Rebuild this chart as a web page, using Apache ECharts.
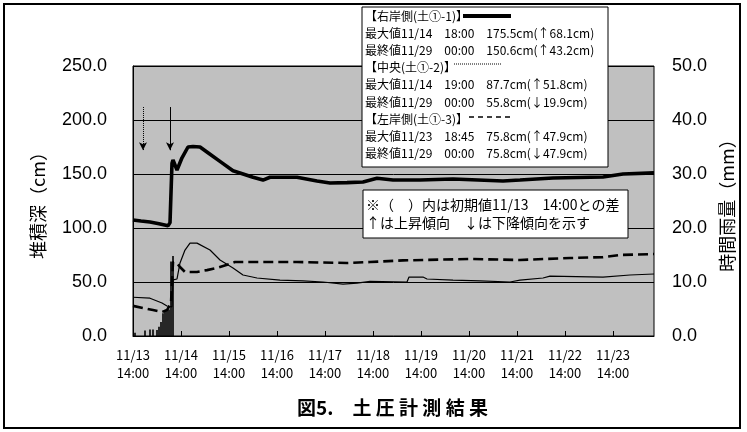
<!DOCTYPE html>
<html>
<head>
<meta charset="utf-8">
<script src="https://cdn.jsdelivr.net/npm/echarts@6/dist/echarts.min.js"></script>
<style>
html, body { margin: 0; padding: 0; background: #fff; }
#main { width: 747px; height: 432px; }
</style>
</head>
<body>
<div id="main"></div>
<script>
// hours counted from 11/13 14:00
var rightHours = [0, 4, 8.5, 13, 17.5, 18.5, 19.5, 20, 22, 24.5, 27.5, 30, 33.5, 38, 44, 50, 53.5, 60, 65, 68.5, 75, 82, 92, 98.5, 107, 115, 122, 130, 143.5, 160, 185, 193.5, 210, 235, 245, 260.5]
var rightVals = [107.4, 106.5, 105.5, 104, 102, 105, 160, 163, 153.7, 165, 175, 175.5, 175, 169, 161, 153, 151, 147, 144.4, 147, 147, 147, 143.5, 141.7, 142, 142.6, 146, 144.4, 144.4, 145.4, 143.5, 144.4, 146.3, 147.2, 150, 151]

var midHours = [0, 8.5, 14.5, 17, 19.5, 20, 22, 23.5, 26, 28.5, 29.5, 32, 38.5, 43.5, 50, 55, 62, 73.5, 85, 95, 105, 112, 118.5, 137, 138, 145, 147, 160, 173.5, 188.5, 193.5, 205, 208.5, 235, 248.5, 260.5]
var midVals = [35.9, 35, 30.5, 27.8, 27, 52, 52.8, 67.6, 79.6, 86, 87.7, 86, 79.6, 70.4, 63, 56.5, 53.7, 51.8, 51, 50, 48, 49, 50.5, 50, 54.6, 54.6, 52.8, 51.8, 51, 50, 51.8, 53.7, 55.5, 54.6, 56.5, 57.4]

var leftHours = [0, 5, 10, 14.5, 17, 19, 20, 22, 23.5, 26, 32, 37, 42, 48.5, 51, 56, 82, 107, 118.5, 135, 168.5, 193.5, 218.5, 235, 243.5, 260.5]
var leftVals = [27.9, 25.9, 24, 22.2, 24, 30.5, 68.5, 67.6, 63.9, 59.3, 59.3, 61, 63, 66.7, 68.5, 68.5, 68.5, 67.6, 68.5, 70, 71.3, 70.4, 72.2, 73, 75, 75.9]

var rainHours = [1, 6, 8.5, 10, 12, 13, 14, 15, 16, 17, 18, 19, 20]
var rainMM = [0.6, 1.0, 1.2, 1.2, 1.1, 1.7, 2.6, 4.2, 4.8, 4.9, 4.9, 13.8, 14.8]

var leftTicks = [0, 50, 100, 150, 200, 250]
var rightTicks = [0, 10, 20, 30, 40, 50]

var legendLines = [
    '【右岸側(土①-1)】',
    '最大値11/14　18:00　175.5cm(↑68.1cm)',
    '最終値11/29　00:00　150.6cm(↑43.2cm)',
    '【中央(土①-2)】',
    '最大値11/14　19:00　87.7cm(↑51.8cm)',
    '最終値11/29　00:00　55.8cm(↓19.9cm)',
    '【左岸側(土①-3)】',
    '最大値11/23　18:45　75.8cm(↑47.9cm)',
    '最終値11/29　00:00　75.8cm(↓47.9cm)'
]
var noteLines = [
    '※（　）内は初期値11/13　14:00との差',
    '↑は上昇傾向　↓は下降傾向を示す'
]

function pairs(xs, ys) {
    return xs.map(function (x, i) { return [x, ys[i]] })
}

var jp = '"Noto Sans CJK JP", sans-serif'
var arial = '"Liberation Sans", Arial, sans-serif'

var chart = echarts.init(document.getElementById('main'))

var legendTexts = legendLines.map(function (t, i) {
    return {
        type: 'text', x: 365, y: 16.5 + i * 17.1, z: 101,
        style: { text: t, font: '12px ' + jp, fill: '#000', verticalAlign: 'middle' }
    }
})
var noteTexts = noteLines.map(function (t, i) {
    return {
        type: 'text', x: 366, y: 205 + i * 17.5, z: 101,
        style: { text: t, font: '14px ' + jp, fill: '#000', verticalAlign: 'middle' }
    }
})

var option = {
    animation: false,
    backgroundColor: '#fff',
    title: {
        text: '図5.　土 圧 計 測 結 果',
        left: 292,
        top: 393,
        textStyle: { fontFamily: jp, fontSize: 19, fontWeight: 'bold', color: '#000' }
    },
    grid: {
        left: 133, top: 66, width: 521, height: 270,
        show: true, backgroundColor: '#c0c0c0', borderColor: '#000', borderWidth: 1
    },
    xAxis: {
        type: 'value',
        min: 0, max: 260.5, interval: 24,
        axisLine: { lineStyle: { color: '#000', width: 1 } },
        axisTick: { inside: true, length: 5, lineStyle: { color: '#000' } },
        splitLine: { show: false },
        axisLabel: {
            showMaxLabel: false,
            margin: 10,
            fontFamily: jp, fontSize: 13, lineHeight: 18, color: '#000',
            formatter: function (v) {
                if (v % 24 !== 0) return ''
                return '11/' + (13 + v / 24) + '\n14:00'
            }
        }
    },
    yAxis: [
        {
            type: 'value', min: leftTicks[0], max: leftTicks[leftTicks.length - 1], interval: 50,
            name: '堆積深（cm）', nameLocation: 'middle', nameGap: 86,
            nameTextStyle: { fontFamily: jp, fontSize: 18, color: '#000' },
            axisLine: { show: true, lineStyle: { color: '#000' } },
            axisTick: { show: false },
            splitLine: { lineStyle: { color: '#000', width: 1 } },
            axisLabel: {
                margin: 26, fontFamily: arial, fontSize: 18, color: '#000',
                formatter: function (v) { return v.toFixed(1) }
            }
        },
        {
            type: 'value', min: rightTicks[0], max: rightTicks[rightTicks.length - 1], interval: 10,
            position: 'right',
            name: '時間雨量（mm）', nameLocation: 'middle', nameGap: 61,
            nameTextStyle: { fontFamily: jp, fontSize: 18, color: '#000' },
            axisLine: { show: false },
            axisTick: { show: false },
            splitLine: { show: false },
            axisLabel: {
                margin: 18, fontFamily: arial, fontSize: 18, color: '#000',
                formatter: function (v) { return v.toFixed(1) }
            }
        }
    ],
    series: [
        {
            name: '時間雨量',
            type: 'bar',
            yAxisIndex: 1,
            barWidth: 1.6,
            itemStyle: { color: '#000' },
            data: pairs(rainHours, rainMM)
        },
        {
            name: '中央(土①-2)',
            type: 'line',
            showSymbol: false,
            lineStyle: { color: '#000', width: 1.2 },
            data: pairs(midHours, midVals)
        },
        {
            name: '左岸側(土①-3)',
            type: 'line',
            showSymbol: false,
            lineStyle: { color: '#000', width: 2.6, type: [10, 5] },
            data: pairs(leftHours, leftVals)
        },
        {
            name: '右岸側(土①-1)',
            type: 'line',
            showSymbol: false,
            lineStyle: { color: '#000', width: 3.6 },
            data: pairs(rightHours, rightVals),
            markLine: {
                silent: true,
                symbol: ['none', 'arrow'],
                symbolSize: [6, 8],
                label: { show: false },
                lineStyle: { color: '#000', width: 1, type: 'solid' },
                data: [
                    [{ coord: [5, 212], lineStyle: { type: 'dotted' } }, { coord: [5, 172] }],
                    [{ coord: [18.5, 212] }, { coord: [18.5, 172] }]
                ]
            }
        }
    ],
    graphic: [
        {
            type: 'rect', z: 100,
            shape: { x: 4, y: 4, width: 736, height: 424 },
            style: { fill: 'none', stroke: '#000', lineWidth: 2 }
        },
        {
            type: 'rect', z: 100,
            shape: { x: 362, y: 7, width: 246, height: 160 },
            style: { fill: '#fff', stroke: '#000', lineWidth: 1 }
        },
        {
            type: 'line', z: 101, shape: { x1: 463, y1: 16, x2: 511, y2: 16 },
            style: { stroke: '#000', lineWidth: 4 }
        },
        {
            type: 'line', z: 101, shape: { x1: 454, y1: 64, x2: 501, y2: 64 },
            style: { stroke: '#000', lineWidth: 1, lineDash: [1, 1] }
        },
        {
            type: 'line', z: 101, shape: { x1: 469, y1: 117, x2: 513, y2: 117 },
            style: { stroke: '#000', lineWidth: 1.5, lineDash: [5, 4] }
        },
        {
            type: 'rect', z: 100,
            shape: { x: 363, y: 190, width: 265, height: 48 },
            style: { fill: '#fff', stroke: '#000', lineWidth: 1 }
        }
    ].concat(legendTexts, noteTexts)
}

chart.setOption(option)
</script>
</body>
</html>
